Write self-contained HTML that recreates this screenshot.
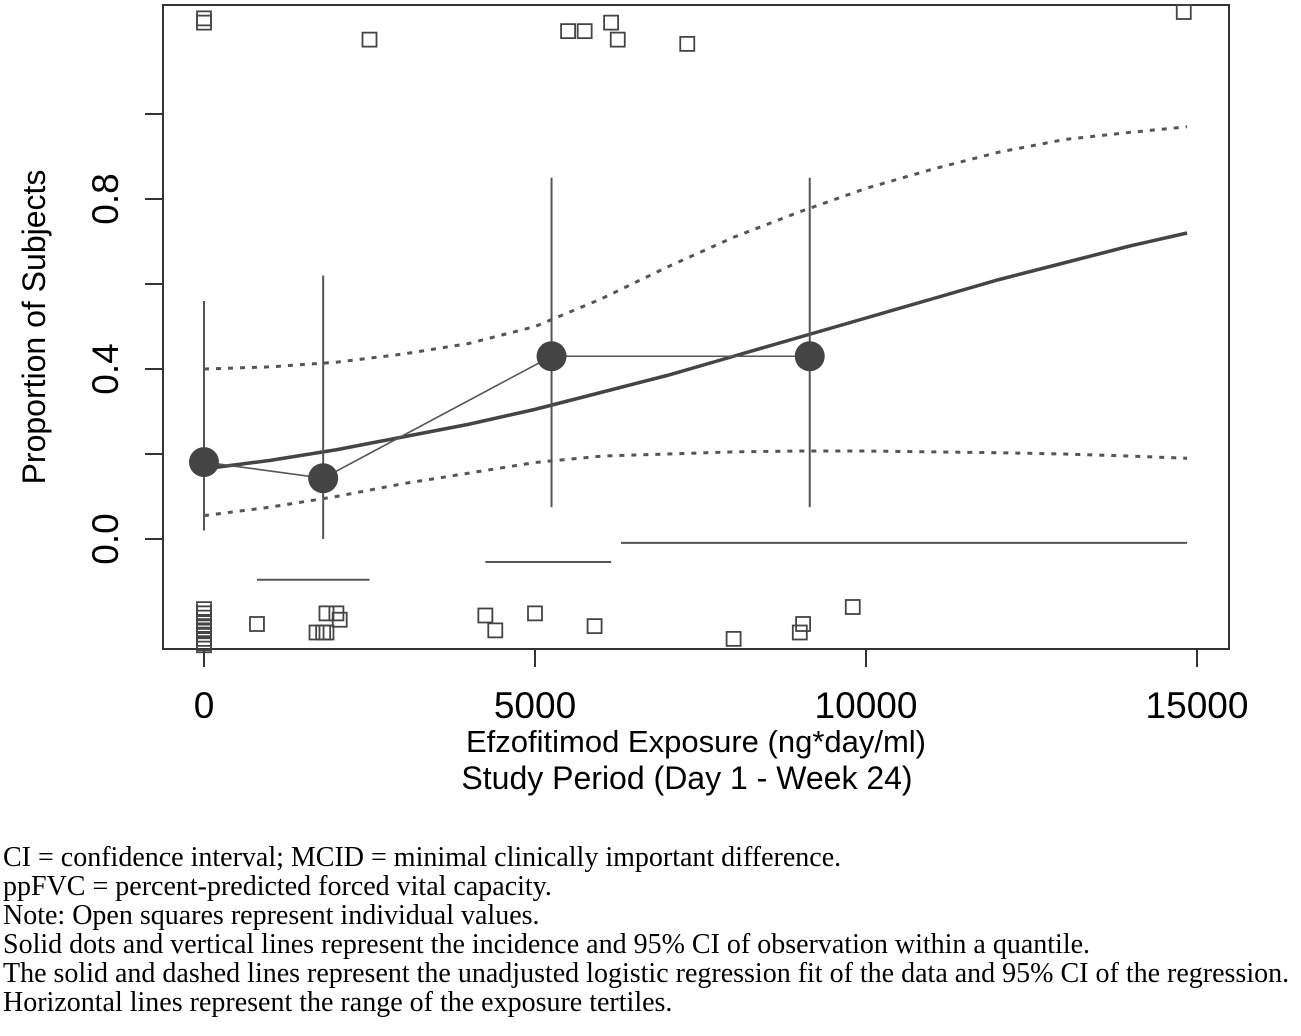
<!DOCTYPE html>
<html><head><meta charset="utf-8"><style>
body{margin:0;background:#fff;width:1301px;height:1036px;overflow:hidden}
svg{position:absolute;left:0;top:0}
.cap{position:absolute;left:3px;top:843px;font-family:"Liberation Serif",serif;font-size:28px;line-height:29px;color:#000;white-space:nowrap}
</style></head><body>
<svg id="chart" width="1301" height="840"></svg>
<div class="cap">
<div>CI = confidence interval; MCID = minimal clinically important difference.</div>
<div>ppFVC = percent-predicted forced vital capacity.</div>
<div>Note: Open squares represent individual values.</div>
<div>Solid dots and vertical lines represent the incidence and 95% CI of observation within a quantile.</div>
<div>The solid and dashed lines represent the unadjusted logistic regression fit of the data and 95% CI of the regression.</div>
<div>Horizontal lines represent the range of the exposure tertiles.</div>
</div>
<script>
const xTicks=[0,5000,10000,15000];
const yTicks=[0,0.2,0.4,0.6,0.8,1.0];
const yLabels=["0.0","","0.4","","0.8",""];
const obsX=[0,1800,5250,9150];
const obsP=[0.181,0.143,0.43,0.43];
const obsLo=[0.02,0,0.075,0.075];
const obsHi=[0.56,0.62,0.85,0.85];
const fitX=[0,1000,2000,3000,4000,5000,6000,7000,8000,9000,10000,11000,12000,13000,14000,14850];
const fitY=[0.165,0.185,0.21,0.24,0.27,0.305,0.345,0.385,0.43,0.475,0.52,0.565,0.61,0.65,0.69,0.72];
const loY=[0.055,0.075,0.1,0.13,0.155,0.18,0.195,0.2,0.205,0.207,0.207,0.205,0.203,0.2,0.195,0.19];
const hiY=[0.4,0.405,0.416,0.435,0.46,0.5,0.565,0.64,0.71,0.77,0.825,0.87,0.91,0.94,0.957,0.97];
const terStart=[800,4250,6300];
const terEnd=[2500,6150,14850];
const terY=[-0.096,-0.054,-0.009];
const sqX=[0,0,0,0,0,0,0,0,0,0,800,1700,1800,1850,1850,2000,2050,4250,4400,5000,5900,8000,9000,9050,9800,
  0,0,2500,5500,5750,6150,6250,7300,14800];
const sqY=[-0.165,-0.175,-0.185,-0.195,-0.205,-0.215,-0.225,-0.235,-0.245,-0.25,-0.2,-0.22,-0.22,-0.22,-0.175,-0.175,-0.19,-0.18,-0.215,-0.175,-0.205,-0.235,-0.22,-0.2,-0.16,
  1.215,1.225,1.175,1.195,1.195,1.215,1.175,1.165,1.24];
const sx=v=>204+v*0.0662;
const sy=v=>539-v*425;
const svg=document.getElementById('chart');
const NS='http://www.w3.org/2000/svg';
function mk(t,a,p){const e=document.createElementNS(NS,t);for(const k in a)e.setAttribute(k,a[k]);(p||svg).appendChild(e);return e;}
const F='"Liberation Sans",Arial,sans-serif';
let e;
e=mk('rect',{x:163,y:5,width:1066,height:644,fill:'none',stroke:'#333','stroke-width':2});


xTicks.forEach(v=>{
 e=mk('line',{x1:sx(v),x2:sx(v),y1:649,y2:667,stroke:'#333','stroke-width':2});
 
 
 e=mk('text',{x:sx(v),y:718,'text-anchor':'middle','font-family':F,'font-size':37,fill:'#000'});e.textContent=v;
 
 
});
yTicks.forEach((v,i)=>{
 e=mk('line',{x1:145,x2:163,y1:sy(v),y2:sy(v),stroke:'#333','stroke-width':2});
 
 
 if(yLabels[i]){e=mk('text',{x:0,y:0,transform:`translate(118,${sy(v)}) rotate(-90)`,'text-anchor':'middle','font-family':F,'font-size':37,fill:'#000'});e.textContent=yLabels[i];
 
 }
});
e=mk('text',{x:0,y:0,transform:'translate(45,327) rotate(-90)','text-anchor':'middle','font-family':F,'font-size':32,fill:'#000'});e.textContent='Proportion of Subjects';


e=mk('text',{x:696,y:752,'text-anchor':'middle','font-family':F,'font-size':31,fill:'#000'});e.textContent='Efzofitimod Exposure (ng*day/ml)';


e=mk('text',{x:687,y:789,'text-anchor':'middle','font-family':F,'font-size':32,fill:'#000'});e.textContent='Study Period (Day 1 - Week 24)';


terStart.forEach((s,i)=>{e=mk('line',{x1:sx(s),x2:sx(terEnd[i]),y1:sy(terY[i]),y2:sy(terY[i]),stroke:'#555','stroke-width':2});
 
 });
sqX.forEach((x,i)=>{e=mk('rect',{x:sx(x)-7,y:sy(sqY[i])-7,width:14,height:14,fill:'none',stroke:'#444','stroke-width':1.8});
 
 });
const pts=(xs,ys)=>xs.map((x,i)=>sx(x)+','+sy(ys[i])).join(' ');
e=mk('polyline',{points:pts(fitX,hiY),fill:'none',stroke:'#555','stroke-width':3,'stroke-dasharray':'5 7'});


e=mk('polyline',{points:pts(fitX,loY),fill:'none',stroke:'#555','stroke-width':3,'stroke-dasharray':'5 7'});


e=mk('polyline',{points:pts(fitX,fitY),fill:'none',stroke:'#444','stroke-width':3.5});


obsX.forEach((x,i)=>{e=mk('line',{x1:sx(x),x2:sx(x),y1:sy(obsLo[i]),y2:sy(obsHi[i]),stroke:'#555','stroke-width':2});
 
 });
e=mk('polyline',{points:pts(obsX,obsP),fill:'none',stroke:'#555','stroke-width':1.6});


obsX.forEach((x,i)=>{e=mk('circle',{cx:sx(x),cy:sy(obsP[i]),r:15,fill:'#444'});
 
 });
</script>
</body></html>
